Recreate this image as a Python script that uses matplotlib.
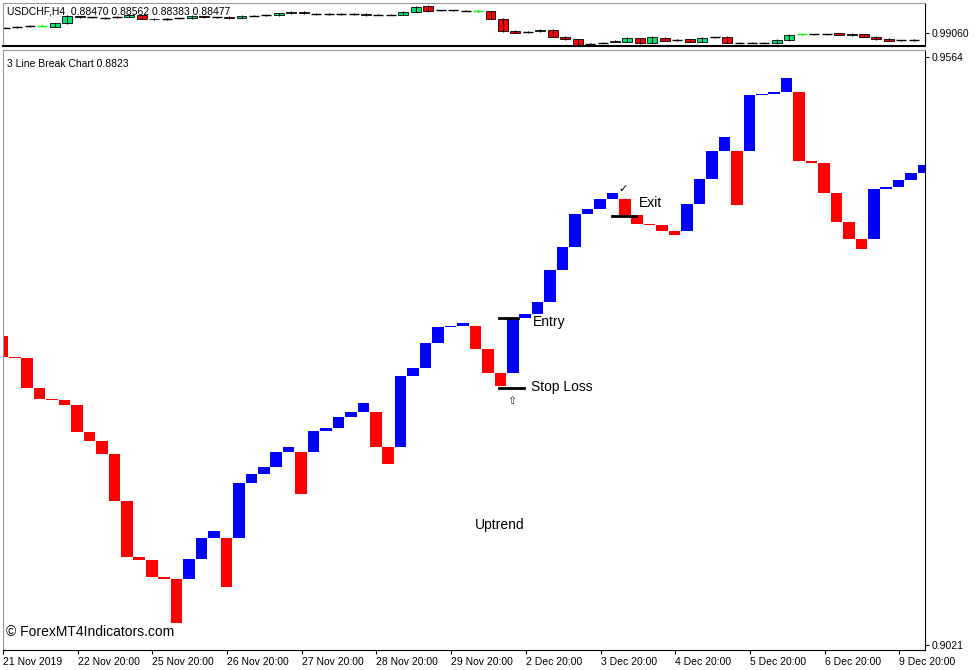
import matplotlib
matplotlib.use("Agg")
import matplotlib.pyplot as plt

plt.rcParams['font.family'] = ['Liberation Sans', 'DejaVu Sans']

# ---- 3 line break chart (main panel) ----
first_open = 0.93065
brick_close = [0.92871, 0.92862, 0.92585, 0.92483, 0.92474, 0.92428, 0.92179, 0.92096, 0.91976, 0.91542,
               0.91025, 0.90997, 0.90840, 0.90822, 0.90416, 0.90822, 0.91006, 0.91200, 0.91265, 0.90748,
               0.91708, 0.91791, 0.91856, 0.91994, 0.92040, 0.91606, 0.92188, 0.92216, 0.92317, 0.92363,
               0.92447, 0.92040, 0.91883, 0.92696, 0.92769, 0.93000, 0.93148, 0.93162, 0.93185, 0.92945,
               0.92723, 0.92603, 0.93231, 0.93268, 0.93379, 0.93674, 0.93886, 0.94191, 0.94237, 0.94329,
               0.94385, 0.94182, 0.94099, 0.94089, 0.94034, 0.93997, 0.94283, 0.94514, 0.94772, 0.94902,
               0.94274, 0.95289, 0.95299, 0.95317, 0.95446, 0.94680, 0.94662, 0.94385, 0.94117, 0.93960,
               0.93868, 0.94422, 0.94440, 0.94505, 0.94569, 0.94643]
# the reading above doubled one value at slot 15; drop it (0.90822 is the open of that brick)
brick_close.pop(15)

x_labels = ["21 Nov 2019", "22 Nov 20:00", "25 Nov 20:00", "26 Nov 20:00", "27 Nov 20:00",
            "28 Nov 20:00", "29 Nov 20:00", "2 Dec 20:00", "3 Dec 20:00", "4 Dec 20:00",
            "5 Dec 20:00", "6 Dec 20:00", "9 Dec 20:00"]

# ---- USDCHF H4 candles (top panel) ----
top_open = [0.99140, 0.99150, 0.99165, 0.99170, 0.99155, 0.99205, 0.99310, 0.99295, 0.99285, 0.99300,
            0.99305, 0.99325, 0.99275, 0.99270, 0.99280, 0.99285, 0.99310, 0.99295, 0.99300, 0.99290,
            0.99320, 0.99325, 0.99330, 0.99360, 0.99375, 0.99345, 0.99345, 0.99345, 0.99345, 0.99350,
            0.99335, 0.99335, 0.99335, 0.99380, 0.99465, 0.99400, 0.99400, 0.99395, 0.99390, 0.99385,
            0.99275, 0.99095, 0.99075, 0.99085, 0.99110, 0.99005, 0.98965, 0.98900, 0.98915, 0.98930,
            0.98930, 0.98980, 0.98915, 0.98990, 0.98955, 0.98965, 0.98930, 0.98995, 0.99005, 0.98915,
            0.98915, 0.98915, 0.98905, 0.98950, 0.99040, 0.99040, 0.99040, 0.99055, 0.99050, 0.99040,
            0.99005, 0.98970, 0.98950, 0.98955]
top_close = [0.99140, 0.99150, 0.99165, 0.99170, 0.99205, 0.99315, 0.99300, 0.99295, 0.99285, 0.99300,
             0.99325, 0.99275, 0.99265, 0.99270, 0.99280, 0.99315, 0.99295, 0.99295, 0.99285, 0.99320,
             0.99320, 0.99325, 0.99355, 0.99380, 0.99355, 0.99345, 0.99345, 0.99345, 0.99345, 0.99330,
             0.99335, 0.99335, 0.99375, 0.99455, 0.99385, 0.99400, 0.99400, 0.99395, 0.99390, 0.99275,
             0.99085, 0.99065, 0.99075, 0.99110, 0.99005, 0.98965, 0.98880, 0.98900, 0.98915, 0.98945,
             0.98990, 0.98905, 0.99005, 0.98945, 0.98955, 0.98930, 0.98990, 0.98995, 0.98915, 0.98915,
             0.98915, 0.98915, 0.98955, 0.99030, 0.99040, 0.99040, 0.99040, 0.99035, 0.99025, 0.99005,
             0.98965, 0.98945, 0.98950, 0.98955]

W, H = 977, 670
fig = plt.figure(figsize=(W / 100, H / 100), dpi=100)

ax_top = fig.add_axes([3 / W, (H - 46) / H, 922 / W, 43 / H])
ax = fig.add_axes([3 / W, (H - 650) / H, 922 / W, 600 / H])

x_min, x_max = 6.5 / 12.45, 928.5 / 12.45

# bricks: same direction -> open at previous close, reversal -> open at previous open
opens = []
prev_open, prev_close = first_open, None
for i, c in enumerate(brick_close):
    if i == 0:
        o = first_open
    else:
        up_prev = prev_close > prev_open
        up_now = c > prev_close
        o = prev_close if up_now == up_prev else prev_open
    opens.append(o)
    prev_open, prev_close = o, c

for i, (o, c) in enumerate(zip(opens, brick_close)):
    col = '#0000FF' if c > o else '#FF0000'
    h = c - o
    if abs(h) < 0.00004:
        h = 0.00004 if h >= 0 else -0.00004
    ax.bar(i, h, bottom=o, width=0.93, align='edge', color=col, linewidth=0)

ax.set_xlim(x_min, x_max)
ax.set_ylim(0.90167, 0.95705)
ax.yaxis.tick_right()
ax.set_yticks([0.9564, 0.9021])
ax.set_yticklabels(['0.9564', '0.9021'], fontsize=7.5)
ax.tick_params(axis='y', length=3, pad=2)
tick_pos = [0.52 + 6 * k for k in range(len(x_labels))]
ax.set_xticks(tick_pos)
ax.set_xticklabels(x_labels, fontsize=7.5, ha='left')
ax.tick_params(axis='x', length=3, pad=2)
for s in ['top', 'left']:
    ax.spines[s].set_color('#999999')
ax.spines['right'].set_color('black')
ax.spines['bottom'].set_color('black')

ax.text(0.004, 0.985, "3 Line Break Chart 0.8823", transform=ax.transAxes, fontsize=7.5, va='top')

# trade annotations
ax.plot([40.4, 41.9], [0.93231, 0.93231], color='black', lw=2)
ax.text(43.1, 0.93195, "Entry", fontsize=10, va='center')
ax.plot([40.4, 42.4], [0.92585, 0.92585], color='black', lw=2)
ax.text(42.9, 0.92595, "Stop Loss", fontsize=10, va='center')
ax.text(41.4, 0.92465, "\u21e7", fontsize=8, ha='center', va='center', color='#333333', family='DejaVu Sans')
ax.text(50.3, 0.94422, "\u2713", fontsize=8, ha='center', va='center', family='DejaVu Sans')
ax.plot([49.4, 51.4], [0.94172, 0.94172], color='black', lw=2)
ax.text(51.6, 0.94292, "Exit", fontsize=10, va='center')
ax.text(40.4, 0.91320, "Uptrend", fontsize=10, ha='center', va='center')
ax.text(0.003, 0.018, "\u00a9 ForexMT4Indicators.com", transform=ax.transAxes, fontsize=10, va='bottom')

# top candle panel
for i, (o, c) in enumerate(zip(top_open, top_close)):
    xc = i + 0.68
    lo, hi = min(o, c), max(o, c)
    ax_top.vlines(xc, lo - 0.00008, hi + 0.00008, color='black', lw=0.8)
    if abs(c - o) < 0.00002:
        col = '#00FF00' if i in (3, 38, 64) else 'black'
        ax_top.hlines(o, xc - 0.4, xc + 0.4, color=col, lw=1)
    else:
        col = '#00E676' if c > o else '#FF0000'
        ax_top.bar(xc, hi - lo, bottom=lo, width=0.8, color=col, edgecolor='black', linewidth=0.6)

ax_top.set_xlim(x_min, x_max)
ax_top.set_ylim(0.98865, 0.9951)
ax_top.yaxis.tick_right()
ax_top.set_yticks([0.9906])
ax_top.set_yticklabels(['0.99060'], fontsize=7.5)
ax_top.tick_params(axis='y', length=3, pad=2)
ax_top.set_xticks([])
for s in ['top', 'left']:
    ax_top.spines[s].set_color('#999999')
ax_top.spines['bottom'].set_color('black')
ax_top.spines['bottom'].set_linewidth(1.5)
ax_top.text(0.004, 0.93, "USDCHF,H4  0.88470 0.88562 0.88383 0.88477", transform=ax_top.transAxes,
            fontsize=7.5, va='top')

fig.savefig("out.png", dpi=100)
